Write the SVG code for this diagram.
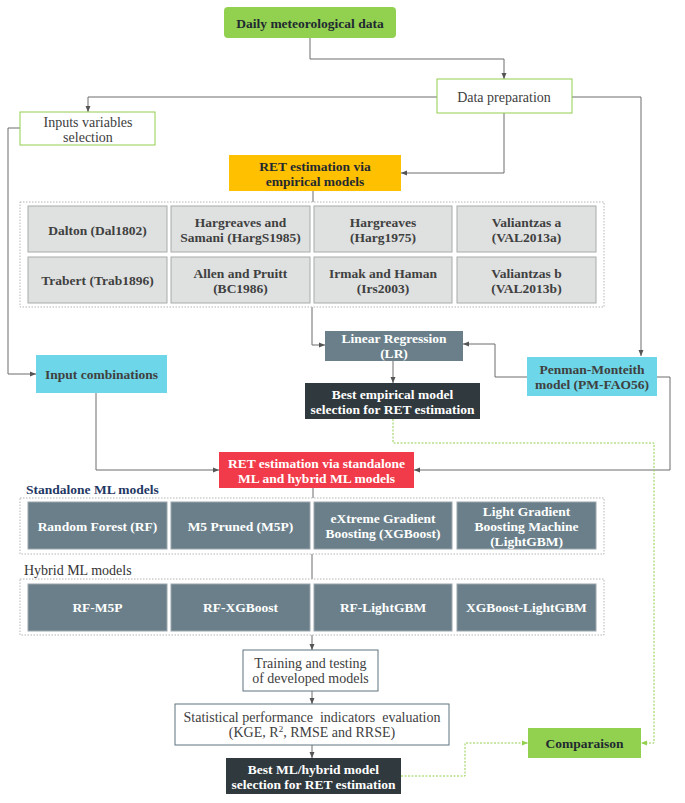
<svg xmlns="http://www.w3.org/2000/svg" width="685" height="803" viewBox="0 0 685 803">
<style>
text{font-family:"Liberation Serif","Times New Roman",serif;font-size:14px;text-anchor:middle;fill:#404040}
.b{font-weight:bold;font-size:13.5px}
.w{fill:#ffffff}
.dk{fill:#1f2a30}
.gray{fill:#dfe1e1;stroke:#a8abab;stroke-width:1}
.slate{fill:#6a7f8a;stroke:#9aa6ac;stroke-width:1}
.cont{fill:none;stroke:#b5b5b5;stroke-width:1;stroke-dasharray:1.5 1.5}
.con{fill:none;stroke:#6d6d6d;stroke-width:1}
.gcon{fill:none;stroke:#92d050;stroke-width:1;stroke-dasharray:2 1.5}
</style>
<defs>
<marker id="a" markerUnits="userSpaceOnUse" markerWidth="6" markerHeight="6" refX="6" refY="3" orient="auto"><path d="M0,0.5 L6,3 L0,5.5 z" fill="#555"/></marker>
<marker id="g" markerUnits="userSpaceOnUse" markerWidth="6" markerHeight="6" refX="6" refY="3" orient="auto"><path d="M0,0.5 L6,3 L0,5.5 z" fill="#92d050"/></marker>
</defs>

<g id="connectors">
<path class="con" d="M310,38 V59 H504 V79" marker-end="url(#a)"/>
<path class="con" d="M437,97 H88 V112" marker-end="url(#a)"/>
<path class="con" d="M20,128 H8 V374 H36" marker-end="url(#a)"/>
<path class="con" d="M572,97 H641 V356" marker-end="url(#a)"/>
<path class="con" d="M504,113 V173 H401" marker-end="url(#a)"/>
<path class="con" d="M313,191 V202"/>
<path class="con" d="M312,307 V345 H325" marker-end="url(#a)"/>
<path class="con" d="M393,361 V383" marker-end="url(#a)"/>
<path class="con" d="M527,377 H495 V344 H463" marker-end="url(#a)"/>
<path class="con" d="M657,377 H670 V470 H414" marker-end="url(#a)"/>
<path class="con" d="M96,393 V470 H219" marker-end="url(#a)"/>
<path class="con" d="M313,488 V498"/>
<path class="con" d="M312,554 V579"/>
<path class="con" d="M312,635 V650" marker-end="url(#a)"/>
<path class="con" d="M312,691 V704" marker-end="url(#a)"/>
<path class="con" d="M312,745 V758" marker-end="url(#a)"/>
<path class="gcon" d="M393,419 V443 H654 V743 H641" marker-end="url(#g)"/>
<path class="gcon" d="M401,776 H465 V743 H528" marker-end="url(#g)"/>
</g>

<g id="daily">
<rect x="224" y="7" width="172" height="31" rx="4" fill="#92d050"/>
<text class="b dk" x="310" y="28">Daily meteorological data</text>
</g>
<g id="data-prep">
<rect x="437" y="79" width="135" height="34" fill="#fff" stroke="#92d050"/>
<text x="504" y="102">Data preparation</text>
</g>
<g id="inputs-sel">
<rect x="20" y="112" width="135" height="33" fill="#fff" stroke="#92d050"/>
<text x="88" y="127">Inputs variables</text>
<text x="88" y="142">selection</text>
</g>
<g id="ret-empirical">
<rect x="229" y="155" width="172" height="36" fill="#ffc000"/>
<text class="b dk" x="315" y="170.5">RET estimation via</text>
<text class="b dk" x="315" y="185.5">empirical models</text>
</g>

<g id="empirical-models">
<rect class="cont" x="20" y="202" width="584" height="105"/>
<rect class="gray" x="28" y="206" width="139" height="46"/>
<rect class="gray" x="171" y="206" width="139" height="46"/>
<rect class="gray" x="314" y="206" width="138" height="46"/>
<rect class="gray" x="457" y="206" width="139" height="46"/>
<rect class="gray" x="28" y="257" width="139" height="46"/>
<rect class="gray" x="171" y="257" width="139" height="46"/>
<rect class="gray" x="314" y="257" width="138" height="46"/>
<rect class="gray" x="457" y="257" width="139" height="46"/>
<text class="b" x="97.5" y="234.5">Dalton (Dal1802)</text>
<text class="b" x="240.5" y="227">Hargreaves and</text>
<text class="b" x="240.5" y="242">Samani (HargS1985)</text>
<text class="b" x="383" y="227">Hargreaves</text>
<text class="b" x="383" y="242">(Harg1975)</text>
<text class="b" x="526.5" y="227">Valiantzas a</text>
<text class="b" x="526.5" y="242">(VAL2013a)</text>
<text class="b" x="97.5" y="285">Trabert (Trab1896)</text>
<text class="b" x="240.5" y="278">Allen and Pruitt</text>
<text class="b" x="240.5" y="293">(BC1986)</text>
<text class="b" x="383" y="278">Irmak and Haman</text>
<text class="b" x="383" y="293">(Irs2003)</text>
<text class="b" x="526.5" y="278">Valiantzas b</text>
<text class="b" x="526.5" y="293">(VAL2013b)</text>
</g>

<g id="lr">
<rect x="325" y="331" width="138" height="30" fill="#6a7f8a"/>
<text class="b w" x="394" y="342.5">Linear Regression</text>
<text class="b w" x="394" y="358">(LR)</text>
</g>
<g id="penman">
<rect x="527" y="357" width="130" height="39" fill="#6dd6e8"/>
<text class="b" x="592" y="373.5" fill="#2a3a40">Penman-Monteith</text>
<text class="b" x="592" y="388.5" fill="#2a3a40">model (PM-FAO56)</text>
</g>
<g id="input-comb">
<rect x="36" y="355" width="131" height="38" fill="#6dd6e8"/>
<text class="b" x="101.5" y="378.5" fill="#2a3a40">Input combinations</text>
</g>
<g id="best-empirical">
<rect x="305" y="383" width="175" height="36" fill="#2f393e"/>
<text class="b w" x="392.5" y="398.5">Best empirical model</text>
<text class="b w" x="392.5" y="413.5">selection for RET estimation</text>
</g>

<g id="ret-standalone">
<rect x="219" y="452" width="195" height="36" fill="#f23b4a"/>
<text class="b w" x="316.5" y="467.5">RET estimation via standalone</text>
<text class="b w" x="316.5" y="482.5">ML and hybrid ML models</text>
</g>

<g id="standalone-models">
<text class="b" x="26" y="494" style="text-anchor:start;fill:#1f3864">Standalone ML models</text>
<rect class="cont" x="20" y="498" width="584" height="56"/>
<rect class="slate" x="28" y="502" width="139" height="47"/>
<rect class="slate" x="171" y="502" width="139" height="47"/>
<rect class="slate" x="314" y="502" width="138" height="47"/>
<rect class="slate" x="457" y="502" width="139" height="47"/>
<text class="b w" x="97.5" y="530.5">Random Forest (RF)</text>
<text class="b w" x="240.5" y="530.5">M5 Pruned (M5P)</text>
<text class="b w" x="383" y="522.5">eXtreme Gradient</text>
<text class="b w" x="383" y="537.5">Boosting (XGBoost)</text>
<text class="b w" x="526.5" y="515.5">Light Gradient</text>
<text class="b w" x="526.5" y="530.5">Boosting Machine</text>
<text class="b w" x="526.5" y="545.5">(LightGBM)</text>
</g>

<g id="hybrid-models">
<text x="24" y="575" style="text-anchor:start;fill:#333">Hybrid ML models</text>
<rect class="cont" x="20" y="579" width="584" height="56"/>
<rect class="slate" x="28" y="584" width="139" height="47"/>
<rect class="slate" x="171" y="584" width="139" height="47"/>
<rect class="slate" x="314" y="584" width="138" height="47"/>
<rect class="slate" x="457" y="584" width="139" height="47"/>
<text class="b w" x="97.5" y="611.5">RF-M5P</text>
<text class="b w" x="240.5" y="611.5">RF-XGBoost</text>
<text class="b w" x="383" y="611.5">RF-LightGBM</text>
<text class="b w" x="526.5" y="611.5">XGBoost-LightGBM</text>
</g>

<g id="training">
<rect x="243" y="650" width="135" height="41" fill="#fff" stroke="#5f7380"/>
<text x="310.5" y="667.5">Training and testing</text>
<text x="310.5" y="683">of developed models</text>
</g>
<g id="statistical">
<rect x="175" y="704" width="274" height="41" fill="#fff" stroke="#5f7380"/>
<text x="312" y="721.5" xml:space="preserve">Statistical performance  indicators  evaluation</text>
<text x="312" y="737">(KGE, R<tspan font-size="9" dy="-5">2</tspan><tspan dy="5">, RMSE and RRSE)</tspan></text>
</g>
<g id="best-ml">
<rect x="226" y="758" width="175" height="36" fill="#2f393e"/>
<text class="b w" x="313.5" y="773.5">Best ML/hybrid model</text>
<text class="b w" x="313.5" y="788.5">selection for RET estimation</text>
</g>
<g id="comparaison">
<rect x="528" y="728" width="113" height="30" fill="#92d050"/>
<text class="b dk" x="584.5" y="747.5">Comparaison</text>
</g>
</svg>
